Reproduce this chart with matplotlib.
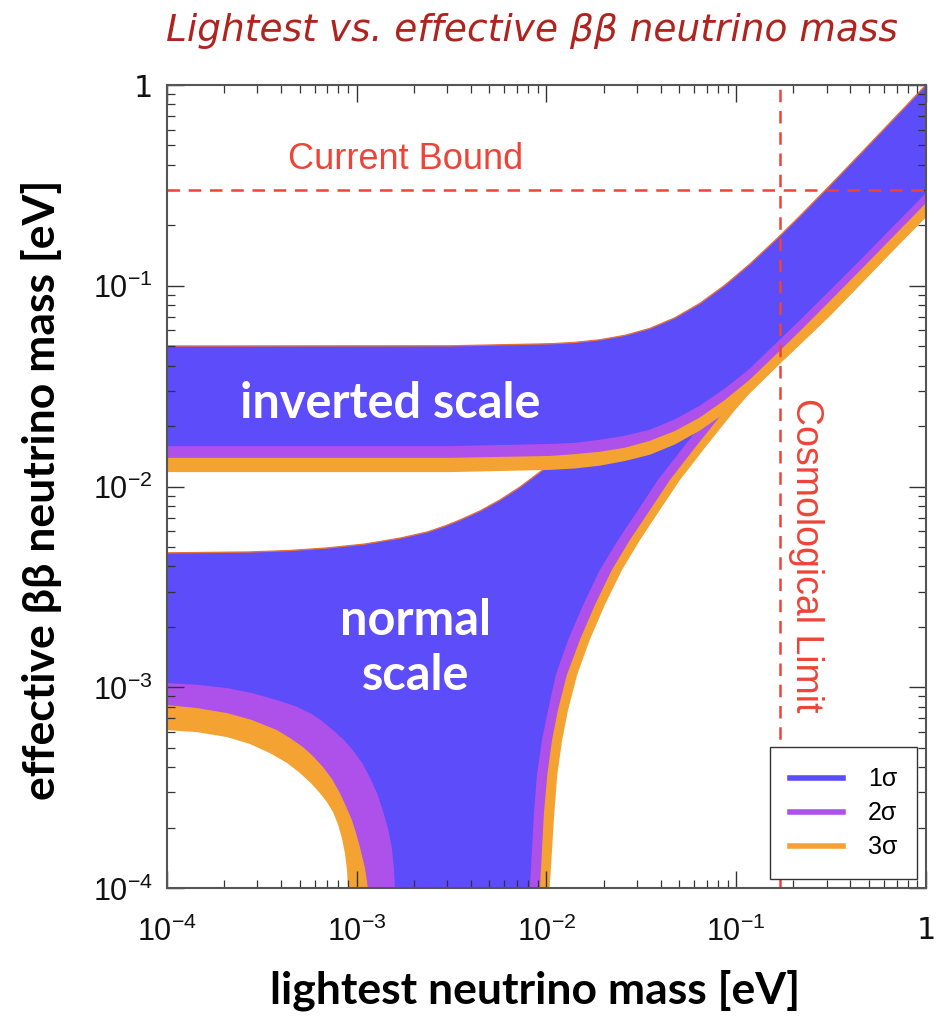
import numpy as np
import matplotlib
matplotlib.use("Agg")
import matplotlib.pyplot as plt
from matplotlib.ticker import LogLocator, NullFormatter

plt.rcParams['mathtext.fontset'] = 'custom'
plt.rcParams['mathtext.rm'] = 'Liberation Sans'
plt.rcParams['mathtext.it'] = 'Liberation Sans:italic'
plt.rcParams['mathtext.bf'] = 'Liberation Sans:bold'

# ---- data (eV) ----
# inverted hierarchy: common upper edge, lower edges for 1/2/3 sigma
inv_x = [1e-4, 3.10e-3, 1.04e-2, 1.41e-2, 1.91e-2, 2.59e-2, 3.51e-2, 4.75e-2, 6.44e-2, 8.72e-2,
         0.118, 0.168, 0.217, 0.312, 0.449, 0.645, 1.0]
inv_up = [0.0501, 0.0502, 0.0514, 0.0522, 0.0538, 0.0566, 0.0613, 0.0692, 0.0817, 0.1007,
          0.1282, 0.1754, 0.2228, 0.316, 0.452, 0.647, 1.0]
inv_lo1 = [0.0159, 0.0159, 0.0163, 0.0165, 0.0171, 0.0179, 0.0192, 0.0216, 0.0253, 0.0308,
           0.0387, 0.0535, 0.0675, 0.0950, 0.134, 0.190, 0.290]
inv_lo2 = [0.0139, 0.0139, 0.0142, 0.0145, 0.0149, 0.0156, 0.0169, 0.0189, 0.0221, 0.0270,
           0.0341, 0.0470, 0.0595, 0.0840, 0.119, 0.169, 0.258]
inv_lo3 = [0.0118, 0.0118, 0.0121, 0.0123, 0.0127, 0.0134, 0.0144, 0.0162, 0.0190, 0.0232,
           0.0292, 0.0405, 0.0510, 0.0708, 0.101, 0.144, 0.220]

# normal hierarchy: upper edge
nor_up_x = [1e-4, 2.74e-4, 4.45e-4, 6.97e-4, 1.105e-3, 1.69e-3, 2.35e-3, 2.92e-3, 3.5e-3, 4.46e-3,
            5.69e-3, 7.25e-3, 9.24e-3, 1.11e-2, 1.33e-2, 1.91e-2, 3.51e-2, 6.44e-2, 0.118, 0.217, 1.0]
nor_up_y = [0.00467, 0.00472, 0.00480, 0.00494, 0.00517, 0.00553, 0.00593, 0.00636, 0.00681, 0.00755,
            0.00857, 0.00994, 0.0118, 0.0134, 0.0152, 0.0202, 0.0359, 0.0602, 0.0953, 0.151, 0.475]

# normal hierarchy: left (falling) lower edges
nor_l1_x = [1e-4, 1.44e-4, 2.07e-4, 2.81e-4, 3.80e-4, 4.73e-4, 5.68e-4, 6.57e-4, 7.50e-4, 8.57e-4,
            9.55e-4, 1.07e-3, 1.17e-3, 1.28e-3, 1.37e-3, 1.46e-3, 1.53e-3, 1.57e-3, 1.59e-3]
nor_l1_y = [1.05e-3, 1.03e-3, 9.91e-4, 9.36e-4, 8.63e-4, 8.07e-4, 7.44e-4, 6.79e-4, 6.12e-4, 5.46e-4,
            4.86e-4, 4.19e-4, 3.57e-4, 2.97e-4, 2.45e-4, 1.99e-4, 1.60e-4, 1.26e-4, 1e-4]
nor_l2_x = [1e-4, 1.44e-4, 2.07e-4, 2.81e-4, 3.80e-4, 4.45e-4, 5.21e-4, 5.87e-4, 6.64e-4, 7.41e-4,
            8.16e-4, 8.77e-4, 9.44e-4, 9.91e-4, 1.04e-3, 1.105e-3, 1.146e-3]
nor_l2_y = [8.16e-4, 7.88e-4, 7.44e-4, 6.87e-4, 6.12e-4, 5.59e-4, 5.04e-4, 4.55e-4, 4.01e-4, 3.49e-4,
            2.97e-4, 2.56e-4, 2.18e-4, 1.88e-4, 1.60e-4, 1.26e-4, 1e-4]
nor_l3_x = [1e-4, 1.44e-4, 2.07e-4, 2.74e-4, 3.49e-4, 4.29e-4, 5.02e-4, 5.74e-4, 6.40e-4, 6.97e-4,
            7.50e-4, 7.96e-4, 8.36e-4, 8.67e-4, 8.89e-4, 8.99e-4]
nor_l3_y = [6.12e-4, 5.98e-4, 5.65e-4, 5.22e-4, 4.70e-4, 4.20e-4, 3.74e-4, 3.33e-4, 2.97e-4, 2.68e-4,
            2.39e-4, 2.08e-4, 1.77e-4, 1.49e-4, 1.23e-4, 1e-4]

# normal hierarchy: right (rising) lower edges, joining the inverted ones above 0.1 eV
nor_r_y = [1e-4, 1.55e-4, 2.36e-4, 3.66e-4, 5.46e-4, 7.71e-4, 1.15e-3, 1.72e-3, 2.57e-3, 3.84e-3,
           5.41e-3, 7.64e-3, 0.0108, 0.0156, 0.0240]
tail_x = [0.118, 0.168, 0.217, 0.312, 0.449, 0.645, 1.0]
nor_r1_x = [8.18e-3, 8.39e-3, 8.59e-3, 8.91e-3, 9.47e-3, 1.02e-2, 1.12e-2, 1.30e-2, 1.56e-2, 1.91e-2,
            2.38e-2, 3.04e-2, 3.87e-2, 5.24e-2, 7.54e-2] + tail_x
nor_r1_y = nor_r_y + inv_lo1[-7:]
nor_r2_x = [9.24e-3, 9.47e-3, 9.70e-3, 1.01e-2, 1.07e-2, 1.15e-2, 1.28e-2, 1.50e-2, 1.80e-2, 2.21e-2,
            2.75e-2, 3.51e-2, 4.48e-2, 6.06e-2, 8.72e-2] + tail_x
nor_r2_y = nor_r_y + inv_lo2[-7:]
nor_r3_x = [1.04e-2, 1.07e-2, 1.10e-2, 1.14e-2, 1.21e-2, 1.30e-2, 1.45e-2, 1.69e-2, 2.03e-2, 2.50e-2,
            3.11e-2, 3.96e-2, 5.06e-2, 6.84e-2, 9.85e-2] + tail_x
nor_r3_y = nor_r_y + inv_lo3[-7:]

current_bound = 0.3
cosmo_limit = 0.17

ticks = [1e-4, 1e-3, 1e-2, 1e-1, 1]
tick_labels = [r'$10^{-4}$', r'$10^{-3}$', r'$10^{-2}$', r'$10^{-1}$', '1']
sigma_labels = ['1σ', '2σ', '3σ']

c_blue = '#5d4cfa'
c_purple = '#ae50ea'
c_orange = '#f4a232'
c_red = '#ee4438'
c_edge = '#e6703a'
colors = [c_blue, c_purple, c_orange]

fig = plt.figure(figsize=(9.39, 10.17), dpi=100)
ax = fig.add_axes([0.1778, 0.1268, 0.8083, 0.7896])
ax.set_xscale('log')
ax.set_yscale('log')


def band(ux, uy, rx, ry, lx=None, ly=None):
    xs = list(ux) + list(rx)[::-1]
    ys = list(uy) + list(ry)[::-1]
    if lx is not None:
        xs += list(lx)[::-1]
        ys += list(ly)[::-1]
    return xs, ys


# normal scale
for rx, ry, lx, ly, c in [(nor_r3_x, nor_r3_y, nor_l3_x, nor_l3_y, c_orange),
                          (nor_r2_x, nor_r2_y, nor_l2_x, nor_l2_y, c_purple),
                          (nor_r1_x, nor_r1_y, nor_l1_x, nor_l1_y, c_blue)]:
    xs, ys = band(nor_up_x, nor_up_y, rx, ry, lx, ly)
    ax.fill(xs, ys, color=c, lw=0, zorder=1)
ax.plot(nor_up_x, nor_up_y, color=c_edge, lw=1.0, zorder=1.1)

# inverted scale
for ly, c in [(inv_lo3, c_orange), (inv_lo2, c_purple), (inv_lo1, c_blue)]:
    xs, ys = band(inv_x, inv_up, inv_x, ly)
    ax.fill(xs, ys, color=c, lw=0, zorder=1.2)
ax.plot(inv_x, inv_up, color=c_edge, lw=1.0, zorder=1.3)

# bounds
ax.axhline(current_bound, color=c_red, lw=1.8, ls=(0, (5, 3.5)), zorder=2)
ax.axvline(cosmo_limit, color=c_red, lw=1.8, ls=(0, (5, 3.5)), zorder=2)

ax.set_xlim(1e-4, 1)
ax.set_ylim(1e-4, 1)
ax.set_xticks(ticks)
ax.set_xticklabels(tick_labels)
ax.set_yticks(ticks)
ax.set_yticklabels(tick_labels)
for a in (ax.xaxis, ax.yaxis):
    a.set_minor_locator(LogLocator(base=10, subs=np.arange(2, 10), numticks=20))
    a.set_minor_formatter(NullFormatter())
ax.tick_params(which='both', direction='in', top=True, right=True, colors='#333333',
               labelcolor='#111111', labelsize=22)
ax.tick_params(which='major', length=12, width=1.0)
ax.tick_params(which='minor', length=6, width=0.9)
ax.tick_params(axis='x', pad=20)
ax.tick_params(axis='y', pad=10)
for s in ax.spines.values():
    s.set_color('#555555')
    s.set_linewidth(1.5)

# legend
handles = [plt.Line2D([], [], color=c, lw=4) for c in colors]
leg = ax.legend(handles, sigma_labels, loc='lower right', handlelength=2.1,
                borderaxespad=0.35, fancybox=False, framealpha=1, edgecolor='#333333',
                borderpad=0.8, labelspacing=0.4, handletextpad=1.0,
                prop={'family': 'Liberation Sans', 'size': 18})
leg.get_frame().set_linewidth(1.0)
leg.set_zorder(5)

# annotations
ax.text(0.314, 0.907, 'Current Bound', transform=ax.transAxes, color=c_red,
        fontsize=26, family='Liberation Sans', ha='center', va='center')
ax.text(0.842, 0.415, 'Cosmological Limit', transform=ax.transAxes, color=c_red,
        fontsize=27, family='Liberation Sans', ha='center', va='center', rotation=-90)
ax.text(0.294, 0.604, 'inverted scale', transform=ax.transAxes, color='white',
        fontsize=35, family='Lato', weight='bold', ha='center', va='center')
ax.text(0.327, 0.299, 'normal\nscale', transform=ax.transAxes, color='white',
        fontsize=35, family='Lato', weight='bold', ha='center', va='center', linespacing=1.25)

fig.text(0.567, 0.970, 'Lightest vs. effective ββ neutrino mass', color='#b0241f',
         fontsize=27, family='DejaVu Sans', style='italic', ha='center', va='center')
fig.text(0.570, 0.026, 'lightest neutrino mass [eV]', fontsize=32, family='Lato',
         weight='bold', ha='center', va='center')
fig.text(0.044, 0.518, 'effective ββ neutrino mass [eV]', fontsize=32, family='Lato',
         weight='bold', ha='center', va='center', rotation=90)

fig.savefig('out.png', dpi=100)
